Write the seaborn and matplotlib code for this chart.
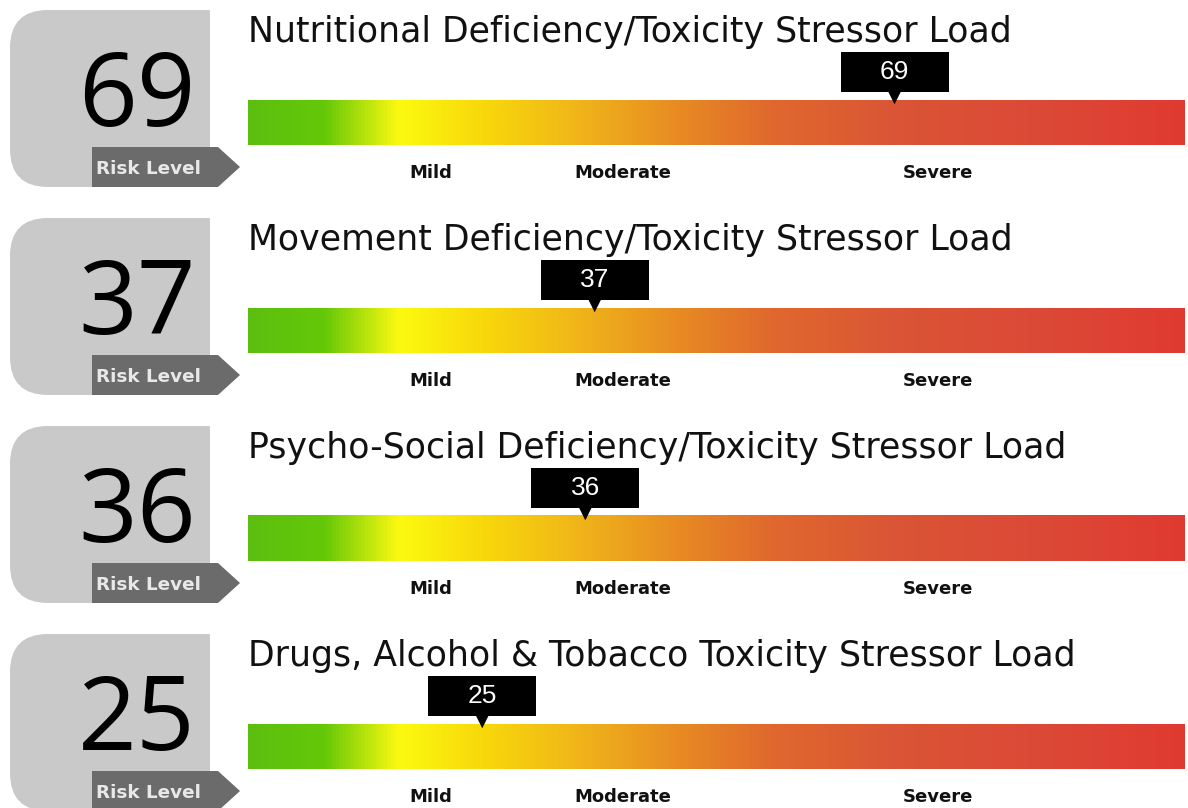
import numpy as np
import matplotlib
matplotlib.use("Agg")
import matplotlib.pyplot as plt
from matplotlib.colors import LinearSegmentedColormap
from matplotlib.patches import Rectangle, FancyBboxPatch, Polygon
import seaborn as sns
import pandas as pd

# ---------------- data ----------------
categories = [
    "Nutritional Deficiency/Toxicity Stressor Load",
    "Movement Deficiency/Toxicity Stressor Load",
    "Psycho-Social Deficiency/Toxicity Stressor Load",
    "Drugs, Alcohol & Tobacco Toxicity Stressor Load",
]
scores = [69, 37, 36, 25]
zone_labels = ["Mild", "Moderate", "Severe"]
zone_positions = [19.5, 40.0, 73.6]
scale_range = (0, 100)
badge_label = "Risk Level"

# ---------------- style ----------------
sns.set_theme(style="white")
plt.rcParams["font.family"] = ["DejaVu Sans"]

grad_stops = [
    (0.00, "#5cbf10"), (0.08, "#64c808"), (0.16, "#fcfa10"),
    (0.25, "#f8d80a"), (0.35, "#f0b61a"), (0.45, "#e88e22"),
    (0.56, "#e0682e"), (0.70, "#da5436"), (0.86, "#dc4836"),
    (1.00, "#e03a30"),
]
cmap = LinearSegmentedColormap.from_list("risk", grad_stops)

W, H = 1188, 808
PANEL_H = 208
fig = plt.figure(figsize=(W / 100, H / 100), dpi=100)
fig.patch.set_facecolor("white")

bg = fig.add_axes([0, 0, 1, 1])
bg.set_xlim(0, W)
bg.set_ylim(H, 0)
bg.axis("off")

tab_color = "#c9c9c9"
badge_color = "#6b6b6b"
bar_left, bar_width = 248, 937
px_per_unit = bar_width / (scale_range[1] - scale_range[0])
box_w = 108 / px_per_unit

gradient = np.linspace(0, 1, 1024)[None, :]

for i, (title, score) in enumerate(zip(categories, scores)):
    off = i * PANEL_H

    # left tab
    bg.add_patch(FancyBboxPatch((10, off + 10), 120, 177,
                                boxstyle="round,pad=0,rounding_size=38",
                                facecolor=tab_color, edgecolor="none"))
    bg.add_patch(Rectangle((70, off + 10), 140, 177,
                           facecolor=tab_color, edgecolor="none"))
    bg.add_patch(Polygon([(92, off + 147), (218, off + 147), (240, off + 167),
                          (218, off + 187), (92, off + 187)],
                         closed=True, facecolor=badge_color, edgecolor="none"))
    bg.text(148, off + 174, badge_label, color="#e8e8e8", fontsize=13.2,
            fontweight="bold", ha="center", va="baseline")
    bg.text(137, off + 126, str(score), color="black", fontsize=74,
            family=["Open Sans", "DejaVu Sans"], ha="center", va="baseline")

    # gauge axes
    ax = fig.add_axes([bar_left / W, 1 - (off + PANEL_H) / H,
                       bar_width / W, PANEL_H / H])
    ax.imshow(gradient, cmap=cmap, extent=(scale_range[0], scale_range[1], 145, 100),
              aspect="auto", interpolation="bilinear", zorder=1)

    ax.text(scale_range[0], 42, title, fontsize=25, color="#111111",
            ha="left", va="baseline")

    # marker callout
    ax.add_patch(Rectangle((score - box_w / 2, 52), box_w, 40,
                           facecolor="black", edgecolor="none", zorder=3))
    df = pd.DataFrame({"x": [score], "y": [97.5]})
    sns.scatterplot(data=df, x="x", y="y", marker="v", s=95, color="black",
                    edgecolor="none", ax=ax, zorder=4, legend=False)
    ax.text(score, 79, str(score), color="white", fontsize=19,
            family=["Liberation Sans", "DejaVu Sans"], ha="center", va="baseline",
            zorder=5)
    ax.set_xlim(*scale_range)
    ax.set_ylim(PANEL_H, 0)
    ax.axis("off")

    for lab, pos in zip(zone_labels, zone_positions):
        ax.text(pos, 178, lab, fontsize=13, fontweight="bold", color="#111111",
                ha="center", va="baseline")

fig.savefig("out.png", dpi=100, facecolor="white")
